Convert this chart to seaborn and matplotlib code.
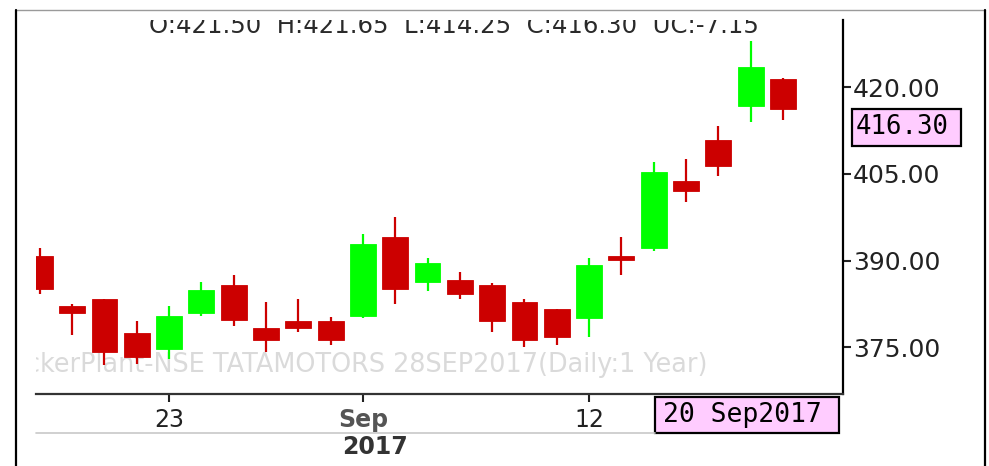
import numpy as np
import pandas as pd
import matplotlib.pyplot as plt
from matplotlib.lines import Line2D
from matplotlib.patches import Rectangle
import seaborn as sns

# daily OHLC, TATAMOTORS, 17 Aug - 20 Sep 2017
dates = ['17 Aug', '18 Aug', '21 Aug', '22 Aug', '23 Aug', '24 Aug', '28 Aug', '29 Aug',
         '30 Aug', '31 Aug', '01 Sep', '04 Sep', '05 Sep', '06 Sep', '07 Sep', '08 Sep',
         '11 Sep', '12 Sep', '13 Sep', '14 Sep', '15 Sep', '18 Sep', '19 Sep', '20 Sep']
opens = [390.80, 382.05, 383.30, 377.45, 374.65, 380.90, 385.80, 378.35, 379.55, 379.55,
         380.45, 394.15, 386.35, 386.65, 385.80, 382.90, 381.65, 380.05, 390.85, 392.15,
         403.85, 410.90, 416.80, 421.50]
highs = [392.15, 382.50, 383.30, 379.60, 382.05, 386.25, 387.50, 382.90, 383.30, 380.30,
         394.60, 397.60, 390.40, 388.00, 386.20, 383.35, 381.65, 390.40, 394.15, 407.10,
         407.60, 413.35, 428.00, 421.65]
lows = [384.25, 377.10, 371.95, 372.10, 372.95, 380.45, 378.70, 374.20, 377.55, 375.40,
        380.05, 382.50, 384.65, 383.30, 377.55, 375.00, 375.40, 376.70, 387.50, 391.70,
        400.10, 404.70, 413.95, 414.25]
closes = [385.05, 380.90, 374.20, 373.35, 380.40, 384.95, 379.70, 376.30, 378.35, 376.30,
          392.95, 385.05, 389.55, 384.20, 379.60, 376.30, 376.70, 389.15, 390.10, 405.40,
          402.10, 406.40, 423.45, 416.30]

tick_pos = [4, 10, 17]
tick_labels = ['23', 'Sep', '12']
y_ticks = [375, 390, 405, 420]
year_label = '2017'
last_date_label = '20 Sep2017'
watermark = 'TickerPlant-NSE TATAMOTORS 28SEP2017(Daily:1 Year)'

df = pd.DataFrame({'date': dates, 'open': opens, 'high': highs, 'low': lows, 'close': closes})
df['x'] = np.arange(len(df))
df['up'] = df['close'] >= df['open']

W, H = 989, 466


def fx(px):
    return px / W


def fy(py):
    return 1 - py / H


sns.set_theme(style='white')
plt.rcParams['font.family'] = ['DejaVu Sans']

fig = plt.figure(figsize=(W / 100, H / 100), dpi=100)
ax = fig.add_axes([fx(36), fy(394), fx(843) - fx(36), fy(20) - fy(394)])

red, green = '#cc0000', '#00ff00'
colors = np.where(df['up'], green, red)

# wicks and bodies
ax.vlines(df['x'], df['low'], df['high'], colors=colors, linewidth=1.6, zorder=2)
body_lo = df[['open', 'close']].min(axis=1)
body_h = (df['open'] - df['close']).abs()
ax.bar(df['x'], body_h, bottom=body_lo, width=0.8, color=colors,
       edgecolor=colors, linewidth=0.6, zorder=3)

ax.set_xlim(-0.12, 24.86)
ax.set_ylim(366.9, 431.64)

ax.yaxis.tick_right()
ax.set_yticks(y_ticks)
ax.set_yticklabels([f'{v:.2f}' for v in y_ticks])
ax.tick_params(axis='y', right=True, left=False, length=6, width=1.5, pad=1,
               labelsize=18, colors='#222222')
ax.set_xticks(tick_pos)
ax.set_xticklabels(tick_labels)
ax.tick_params(axis='x', bottom=True, length=6, width=1.5, pad=4,
               labelsize=17, colors='#222222')
ax.get_xticklabels()[1].set_fontweight('bold')
ax.get_xticklabels()[1].set_color('#555555')

ax.spines['left'].set_visible(False)
ax.spines['top'].set_visible(False)
ax.spines['right'].set_color('black')
ax.spines['right'].set_linewidth(1.6)
ax.spines['bottom'].set_color('#333333')
ax.spines['bottom'].set_linewidth(1.6)
ax.grid(False)

# OHLC header for the last bar
header = (f'O:{opens[-1]:.2f}  H:{highs[-1]:.2f}  L:{lows[-1]:.2f}  '
          f'C:{closes[-1]:.2f}  UC:{closes[-1] - closes[-2]:.2f}')
ax.text(fx(454), fy(33), header, transform=fig.transFigure, ha='center',
        va='baseline', fontsize=17.6, color='#2a2a2a', clip_on=True)

ax.text(fx(707), fy(372), watermark, transform=fig.transFigure, ha='right',
        va='baseline', fontsize=18.4, color='#dadada', zorder=1, clip_on=True)

# outer frame
fig.add_artist(Line2D([fx(16), fx(985)], [fy(10), fy(10)], transform=fig.transFigure,
                      color='#9a9a9a', lw=1))
fig.add_artist(Line2D([fx(16), fx(16)], [fy(10), 0], transform=fig.transFigure,
                      color='black', lw=1.6))
fig.add_artist(Line2D([fx(985), fx(985)], [fy(10), 0], transform=fig.transFigure,
                      color='black', lw=1.6))
fig.add_artist(Line2D([fx(36), fx(655)], [fy(433), fy(433)], transform=fig.transFigure,
                      color='#c8c8c8', lw=1.2))

fig.text(fx(375), fy(447), year_label, ha='center', va='center', fontsize=17,
         fontweight='bold', color='#333333')

# last date box
fig.add_artist(Rectangle((fx(655), fy(433)), fx(839) - fx(655), fy(397) - fy(433),
                         transform=fig.transFigure, facecolor='#ffccff',
                         edgecolor='black', lw=1.6))
fig.text(fx(742), fy(415), last_date_label, ha='center', va='center',
         family='DejaVu Sans Mono', fontsize=19, color='black')

# last price box
fig.add_artist(Rectangle((fx(852), fy(146)), fx(961) - fx(852), fy(109) - fy(146),
                         transform=fig.transFigure, facecolor='#ffccff',
                         edgecolor='black', lw=1.6))
fig.text(fx(902), fy(127.5), f'{closes[-1]:.2f}', ha='center', va='center',
         family='DejaVu Sans Mono', fontsize=18.5, color='black')

fig.savefig('out.png', dpi=100)
